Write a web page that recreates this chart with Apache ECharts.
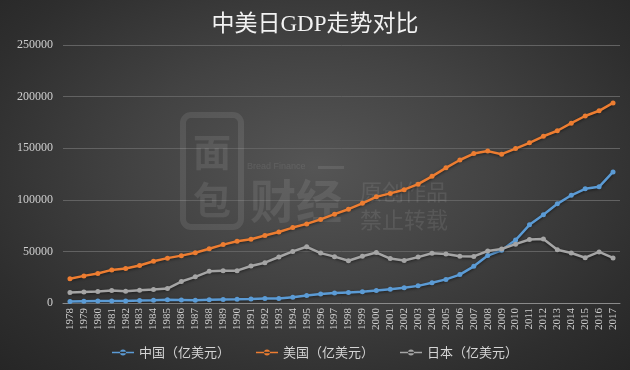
<!DOCTYPE html>
<html>
<head>
<meta charset="utf-8">
<script src="https://cdn.jsdelivr.net/npm/echarts@6/dist/echarts.min.js"></script>
<style>
html,body{margin:0;padding:0;}
#c{width:630px;height:370px;background:radial-gradient(ellipse at 50% 45%, #555555 0%, #434343 40%, #2e2e2e 80%, #262626 100%);}
</style>
</head>
<body>
<div id="c"></div>
<script>
var years = ['1978','1979','1980','1981','1982','1983','1984','1985','1986','1987','1988','1989','1990','1991','1992','1993','1994','1995','1996','1997','1998','1999','2000','2001','2002','2003','2004','2005','2006','2007','2008','2009','2010','2011','2012','2013','2014','2015','2016','2017'];
var china = [1495,1783,1911,1958,2050,2306,2599,3094,3007,2729,3123,3472,3609,3833,4269,4447,5643,7344,8638,9615,10290,10940,12113,13394,14705,16603,19553,22860,27521,35522,45982,51100,61006,75726,85605,96072,104385,110616,112600,127000];
var usa = [23516,26273,28573,32073,33450,36381,40408,43468,45902,48702,52528,56579,59796,61740,65393,68787,73088,76640,81002,86085,90891,96605,102848,106218,109775,115107,122749,130937,138559,144776,147186,144187,149644,155179,161553,166915,174276,181207,186245,193906];
var japan = [10139,10603,11053,12189,11343,12436,13184,13988,20786,25328,30714,31206,31326,35849,39089,44547,49987,54491,48336,44924,40981,45356,48875,43035,41151,44457,48152,47554,45303,45153,50379,52312,57001,61575,62032,51557,48504,43895,49492,43700];
var yTicks = [0,50000,100000,150000,200000,250000];
var seriesNames = ['中国（亿美元）','美国（亿美元）','日本（亿美元）'];
var titleText = '中美日GDP走势对比';

var chart = echarts.init(document.getElementById('c'), null, {renderer:'canvas'});
var wm = 'rgba(255,255,255,0.09)';
function mk(name, data, color){
  return {
    name: name, type: 'line', data: data,
    symbol: 'circle', symbolSize: 5, showSymbol: true,
    lineStyle: {color: color, width: 2.5, shadowColor: 'rgba(0,0,0,0.55)', shadowBlur: 3, shadowOffsetY: 1},
    itemStyle: {color: color},
    emphasis: {disabled: true},
    z: 3
  };
}
chart.setOption({
  backgroundColor: 'transparent',
  animation: false,
  title: {
    text: titleText, left: 'center', top: 8,
    textStyle: {color: '#f2f2f2', fontSize: 23, fontWeight: 'normal', fontFamily: "'Liberation Serif','Noto Sans CJK SC'"}
  },
  legend: {
    bottom: 6, left: 'center', itemGap: 26, itemWidth: 22, itemHeight: 8,
    icon: 'path://M0,3.2 L22,3.2 L22,4.8 L0,4.8 Z M8,4 A3,3 0 1,0 14,4 A3,3 0 1,0 8,4 Z',
    textStyle: {color: '#d4d4d4', fontSize: 13, fontFamily: "'Noto Sans CJK SC'"},
    data: seriesNames
  },
  grid: {left: 63, right: 10, top: 45, bottom: 67},
  xAxis: {
    type: 'category', data: years, boundaryGap: true,
    axisLine: {lineStyle: {color: '#8a8a8a', width: 1}},
    axisTick: {show: false},
    axisLabel: {rotate: 90, interval: 0, color: '#cfcfcf', fontSize: 11, margin: 5, fontFamily: "'Liberation Serif'"}
  },
  yAxis: {
    type: 'value', min: 0, max: 250000, interval: 50000,
    axisLine: {show: false}, axisTick: {show: false},
    axisLabel: {color: '#cfcfcf', fontSize: 12, margin: 10, fontFamily: "'Liberation Serif'",
      formatter: function(v){ return yTicks.indexOf(v) >= 0 ? String(v) : ''; }},
    splitLine: {lineStyle: {color: '#626262', width: 1}}
  },
  graphic: [
    {type: 'rect', shape: {x: 183, y: 115, width: 58, height: 112, r: 8}, style: {fill: 'none', stroke: wm, lineWidth: 6}, z: 1, silent: true},
    {type: 'text', left: 193, top: 128, style: {text: '面\n包', fill: wm, font: 'bold 38px "Noto Sans CJK SC"', lineHeight: 48}, z: 1, silent: true},
    {type: 'text', left: 247, top: 162, style: {text: 'Bread Finance', fill: wm, font: '9px "Liberation Sans"'}, z: 1, silent: true},
    {type: 'rect', shape: {x: 318, y: 166, width: 26, height: 3}, style: {fill: wm}, z: 1, silent: true},
    {type: 'text', left: 250, top: 178, style: {text: '财经', fill: wm, font: 'bold 46px "Noto Sans CJK SC"'}, z: 1, silent: true},
    {type: 'text', left: 360, top: 178, style: {text: '原创作品\n禁止转载', fill: wm, font: '22px "Noto Sans CJK SC"', lineHeight: 28}, z: 1, silent: true}
  ],
  series: [
    mk(seriesNames[0], china, '#5b9bd5'),
    mk(seriesNames[1], usa, '#ed7d31'),
    mk(seriesNames[2], japan, '#a5a5a5')
  ]
});
</script>
</body>
</html>
